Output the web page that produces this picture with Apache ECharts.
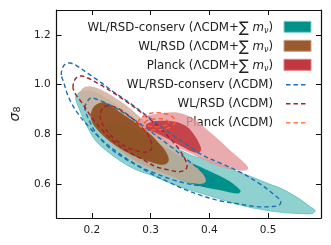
<!DOCTYPE html>
<html><head><meta charset="utf-8">
<script src="https://cdn.jsdelivr.net/npm/echarts@6/dist/echarts.min.js"></script>
<style>html,body{margin:0;padding:0;background:#fff}#c{width:331px;height:245px}</style>
</head><body><div id="c"></div>
<script>
const xTicks = [0.2, 0.3, 0.4, 0.5];
const yTicks = [0.6, 0.8, 1.0, 1.2];
const legendNames = ['WL/RSD-conserv', 'WL/RSD', 'Planck', 'WL/RSD-conserv', 'WL/RSD', 'Planck'];
const legendModels = ['nu', 'nu', 'nu', 'lcdm', 'lcdm', 'lcdm'];

// WL/RSD-conserv (LCDM + sum m_nu) : 2-sigma and 1-sigma contours
const conservNuOuter = [[0.173,0.955],[0.180,0.971],[0.190,0.975],[0.203,0.971],[0.220,0.951],[0.245,0.911],[0.275,0.859],[0.304,0.807],[0.337,0.755],[0.371,0.715],[0.396,0.699],[0.416,0.683],[0.443,0.655],[0.471,0.631],[0.500,0.603],[0.526,0.579],[0.555,0.539],[0.571,0.511],[0.580,0.495],[0.575,0.483],[0.555,0.483],[0.526,0.487],[0.500,0.495],[0.471,0.507],[0.443,0.523],[0.416,0.543],[0.388,0.563],[0.359,0.583],[0.332,0.607],[0.304,0.635],[0.275,0.659],[0.248,0.695],[0.225,0.735],[0.208,0.771],[0.195,0.819],[0.185,0.867],[0.178,0.907],[0.173,0.939]];
const conservNuInner = [[0.225,0.827],[0.237,0.847],[0.275,0.819],[0.304,0.779],[0.332,0.739],[0.366,0.691],[0.399,0.655],[0.433,0.615],[0.453,0.575],[0.449,0.563],[0.421,0.575],[0.387,0.591],[0.354,0.615],[0.321,0.647],[0.287,0.679],[0.259,0.719],[0.237,0.759],[0.225,0.799]];
// WL/RSD (LCDM + sum m_nu)
const wlrsdNuOuter = [[0.178,0.955],[0.182,0.979],[0.188,0.991],[0.200,0.993],[0.220,0.975],[0.240,0.947],[0.262,0.911],[0.287,0.859],[0.312,0.807],[0.337,0.755],[0.362,0.703],[0.379,0.667],[0.391,0.635],[0.394,0.615],[0.389,0.603],[0.376,0.603],[0.359,0.611],[0.332,0.631],[0.304,0.655],[0.275,0.687],[0.249,0.731],[0.225,0.783],[0.207,0.835],[0.192,0.887],[0.183,0.923]];
const wlrsdNuInner = [[0.198,0.879],[0.203,0.911],[0.213,0.927],[0.225,0.927],[0.245,0.895],[0.270,0.855],[0.295,0.811],[0.312,0.771],[0.326,0.731],[0.331,0.699],[0.327,0.683],[0.317,0.679],[0.299,0.691],[0.275,0.711],[0.249,0.743],[0.225,0.783],[0.208,0.823],[0.200,0.851]];
// Planck (LCDM + sum m_nu)
const planckNuOuter = [[0.279,0.843],[0.282,0.863],[0.299,0.879],[0.321,0.887],[0.349,0.887],[0.371,0.867],[0.392,0.827],[0.416,0.779],[0.438,0.731],[0.454,0.699],[0.464,0.675],[0.466,0.663],[0.459,0.655],[0.443,0.659],[0.424,0.667],[0.404,0.683],[0.387,0.703],[0.366,0.727],[0.342,0.751],[0.321,0.779],[0.299,0.807],[0.284,0.827]];
const planckNuInner = [[0.292,0.835],[0.297,0.847],[0.316,0.855],[0.342,0.851],[0.362,0.831],[0.374,0.799],[0.382,0.767],[0.386,0.739],[0.381,0.727],[0.371,0.731],[0.354,0.751],[0.332,0.779],[0.309,0.807],[0.295,0.819]];
// WL/RSD-conserv (LCDM) dashed
const conservOuter = [[0.148,1.039],[0.150,1.067],[0.155,1.083],[0.163,1.087],[0.175,1.075],[0.192,1.047],[0.212,1.015],[0.237,0.971],[0.262,0.931],[0.287,0.887],[0.312,0.843],[0.337,0.799],[0.362,0.759],[0.387,0.719],[0.421,0.683],[0.454,0.647],[0.488,0.599],[0.510,0.559],[0.521,0.535],[0.520,0.519],[0.508,0.511],[0.479,0.511],[0.446,0.523],[0.416,0.535],[0.387,0.555],[0.359,0.579],[0.329,0.611],[0.301,0.643],[0.267,0.691],[0.240,0.735],[0.215,0.783],[0.195,0.831],[0.178,0.879],[0.165,0.927],[0.157,0.971],[0.152,1.011]];
const conservInner = [[0.188,0.907],[0.192,0.931],[0.198,0.947],[0.215,0.935],[0.237,0.911],[0.262,0.875],[0.287,0.835],[0.312,0.791],[0.337,0.747],[0.362,0.699],[0.384,0.659],[0.397,0.631],[0.406,0.611],[0.408,0.599],[0.402,0.595],[0.384,0.595],[0.362,0.603],[0.337,0.619],[0.309,0.643],[0.282,0.671],[0.254,0.707],[0.228,0.751],[0.208,0.803],[0.195,0.859]];
// WL/RSD (LCDM) dashed
const wlrsdOuter = [[0.168,0.987],[0.170,1.015],[0.175,1.031],[0.183,1.035],[0.193,1.027],[0.215,0.999],[0.237,0.967],[0.262,0.927],[0.287,0.883],[0.312,0.835],[0.332,0.787],[0.349,0.739],[0.359,0.699],[0.362,0.671],[0.357,0.655],[0.346,0.651],[0.329,0.659],[0.309,0.671],[0.287,0.699],[0.265,0.727],[0.240,0.767],[0.217,0.819],[0.197,0.879],[0.182,0.931],[0.172,0.963]];
const wlrsdInner = [[0.215,0.887],[0.220,0.911],[0.234,0.915],[0.254,0.891],[0.275,0.851],[0.292,0.811],[0.300,0.775],[0.302,0.747],[0.297,0.731],[0.282,0.731],[0.262,0.747],[0.240,0.779],[0.223,0.823],[0.215,0.859]];
// Planck (LCDM) dashed
const planckOuter = [[0.279,0.847],[0.282,0.863],[0.292,0.879],[0.304,0.887],[0.317,0.887],[0.331,0.879],[0.339,0.867],[0.342,0.851],[0.337,0.835],[0.326,0.823],[0.312,0.819],[0.297,0.819],[0.285,0.827]];
const planckInner = [[0.290,0.847],[0.297,0.859],[0.309,0.863],[0.321,0.863],[0.329,0.855],[0.331,0.843],[0.322,0.835],[0.309,0.831],[0.297,0.835]];

const FONT = 'DejaVu Sans';
function poly(pts, style, smooth) {
  return {
    type: 'custom', coordinateSystem: 'cartesian2d', xAxisIndex: 0, yAxisIndex: 0,
    data: pts, encode: { x: 0, y: 1 }, silent: true, animation: false, clip: true,
    renderItem: function (params, api) {
      if (params.dataIndex !== 0) return null;
      const points = pts.map(p => api.coord(p));
      return { type: 'polygon', shape: { points: points, smooth: smooth == null ? 0.35 : smooth }, style: Object.assign({}, style) };
    }
  };
}
const dash = [4.5, 3];
const LW = 1.4;
const series = [
  poly(conservNuOuter, { fill: 'rgb(143,209,206)', stroke: '#5ec4c0', lineWidth: 0.9 }),
  poly(conservNuInner, { fill: '#00918b' }),
  poly(wlrsdNuOuter, { fill: 'rgba(208,176,155,0.85)' }),
  poly(wlrsdNuInner, { fill: 'rgba(139,69,19,0.85)' }),
  poly(planckNuOuter, { fill: 'rgba(229,150,154,0.8)' }),
  poly(planckNuInner, { fill: 'rgba(192,57,62,0.9)' }),
  poly(conservOuter, { fill: null, stroke: '#1f6eb3', lineWidth: LW, lineDash: dash }),
  poly(conservInner, { fill: null, stroke: '#1f6eb3', lineWidth: LW, lineDash: dash }),
  poly(wlrsdOuter, { fill: null, stroke: '#a3202c', lineWidth: LW, lineDash: dash }),
  poly(wlrsdInner, { fill: null, stroke: '#a3202c', lineWidth: LW, lineDash: dash }),
  poly(planckOuter, { fill: null, stroke: '#ff5a30', lineWidth: LW, lineDash: dash }),
  poly(planckInner, { fill: null, stroke: '#ff5a30', lineWidth: LW, lineDash: dash })
];

const axisCommon = {
  type: 'value', splitLine: { show: false },
  axisLine: { show: true, onZero: false, lineStyle: { color: '#111', width: 1.2 } }
};
function xAx(pos, lab) {
  return Object.assign({}, axisCommon, {
    min: 0.14, max: 0.59, position: pos,
    axisTick: { show: true, inside: true, length: 5, customValues: xTicks, lineStyle: { color: '#111', width: 1 } },
    axisLabel: { show: lab, customValues: xTicks, formatter: v => v.toFixed(1), fontSize: 10.5, fontFamily: FONT, color: '#222', margin: 7 }
  });
}
function yAx(pos, lab) {
  return Object.assign({}, axisCommon, {
    min: 0.465, max: 1.3, position: pos,
    axisTick: { show: true, inside: true, length: 5, customValues: yTicks, lineStyle: { color: '#111', width: 1 } },
    axisLabel: { show: lab, customValues: yTicks, formatter: v => v.toFixed(1), fontSize: 10.5, fontFamily: FONT, color: '#222', margin: 6 },
    name: lab ? '{i|σ}{s|8}' : '', nameLocation: 'middle', nameGap: 31, nameRotate: 90,
    nameTextStyle: { rich: { i: { fontStyle: 'italic', fontSize: 14, fontFamily: FONT, color: '#222' }, s: { fontSize: 9.5, fontFamily: FONT, color: '#222', padding: [6, 0, 0, 0] } } }
  });
}

const dark = ['#00918b', '#9a5a2e', '#c0393e'];
const light = ['#7fd0cb', '#c9a27c', '#e47c80'];
const dashCol = ['#1f6eb3', '#a3202c', '#ff7a55'];
const graphics = [];
for (let i = 0; i < legendNames.length; i++) {
  const y = 26.8 + 19 * i;
  const txt = legendModels[i] === 'nu'
    ? '{a|' + legendNames[i] + ' (ΛCDM+}{s|∑}{a| }{m|m}{n|ν}{a|)}'
    : '{a|' + legendNames[i] + ' (ΛCDM)}';
  graphics.push({
    type: 'text', x: 273, y: y + 1.5,
    style: {
      text: txt, align: 'right', verticalAlign: 'middle', fill: '#222',
      rich: {
        a: { fontSize: 11.8, fontFamily: FONT, fill: '#222' },
        s: { fontSize: 14.5, fontFamily: FONT, fill: '#222' },
        m: { fontSize: 11.8, fontFamily: FONT, fontStyle: 'italic', fill: '#222' },
        n: { fontSize: 8, fontFamily: FONT, fontStyle: 'italic', fill: '#222', padding: [6, 0, 0, 0] }
      }
    }
  });
  if (i < 3) {
    graphics.push({ type: 'rect', shape: { x: 284, y: y - 5.5, width: 27, height: 11 }, style: { fill: dark[i], stroke: light[i], lineWidth: 1 } });
  } else {
    graphics.push({ type: 'line', shape: { x1: 286, y1: y + 1, x2: 307, y2: y + 1 }, style: { stroke: dashCol[i - 3], lineWidth: LW, lineDash: dash } });
  }
}

const chart = echarts.init(document.getElementById('c'), null, { renderer: 'canvas' });
chart.setOption({
  animation: false,
  grid: { left: 52, right: 10, top: 10, bottom: 27, containLabel: false },
  xAxis: [xAx('bottom', true), xAx('top', false)],
  yAxis: [yAx('left', true), yAx('right', false)],
  series: series,
  graphic: graphics
});
</script></body></html>
